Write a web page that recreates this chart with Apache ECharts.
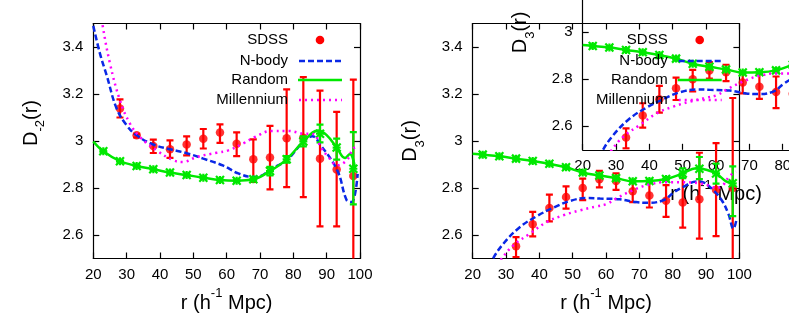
<!DOCTYPE html>
<html>
<head>
<meta charset="utf-8">
<script src="https://cdn.jsdelivr.net/npm/echarts@6/dist/echarts.min.js"></script>
<style>
  html, body { margin: 0; padding: 0; background: #fff; }
  #chart { width: 789px; height: 331px; }
</style>
</head>
<body>
<div id="chart"></div>
<script>
// ---- values ----
// left panel, D_-2(r)
var rSdssL = [28, 33, 38, 43, 48, 53, 58, 63, 68, 73, 78, 83, 88, 93, 98]
var sdssL = [3.138, 3.024, 2.979, 2.965, 2.985, 3.010, 3.036, 2.988, 2.922, 2.930, 3.012, 3.014, 2.925, 2.879, 2.851]
var sdssLoL = [3.100, 3.015, 2.949, 2.928, 2.939, 2.968, 2.992, 2.936, 2.826, 2.794, 2.804, 2.761, 2.637, 2.637, 2.45]
var sdssHiL = [3.177, 3.030, 3.006, 3.003, 3.020, 3.051, 3.071, 3.037, 3.007, 3.064, 3.220, 3.272, 3.214, 3.124, 3.261]

var rRand = [23, 28, 33, 38, 43, 48, 53, 58, 63, 68, 73, 78, 83, 88, 93, 98]
var randL = [2.956, 2.914, 2.894, 2.880, 2.866, 2.855, 2.844, 2.834, 2.831, 2.837, 2.872, 2.922, 2.998, 3.031, 2.972, 2.882]
var randLoL = [2.951, 2.909, 2.889, 2.875, 2.861, 2.850, 2.839, 2.829, 2.826, 2.831, 2.854, 2.908, 2.977, 2.994, 2.921, 2.730]
var randHiL = [2.961, 2.919, 2.899, 2.885, 2.871, 2.860, 2.849, 2.839, 2.836, 2.843, 2.890, 2.936, 3.020, 3.070, 3.010, 3.038]

var randCurveL = [[20, 2.998], [23, 2.956], [28, 2.914], [33, 2.894], [38, 2.880], [43, 2.866], [48, 2.855], [53, 2.844], [58, 2.834], [63, 2.831], [68, 2.837], [73, 2.872], [78, 2.922], [83, 2.998], [87.5, 3.045], [90, 3.025], [93, 2.972], [95.5, 2.928], [97, 2.945], [98.5, 2.885]]
var nbodyL = [[20, 3.49], [22, 3.372], [24, 3.28], [27, 3.138], [30, 3.067], [33, 3.024], [38, 2.985], [43, 2.965], [48, 2.948], [53, 2.925], [59, 2.895], [63.5, 2.862], [68, 2.847], [70.5, 2.853], [73.2, 2.880], [78, 2.918], [83.2, 3.000], [85.7, 3.020], [88.2, 2.982], [93.2, 2.875], [96, 2.748], [97.5, 2.740], [99.3, 2.860]]
var millL = [[21.5, 3.62], [22.7, 3.50], [25, 3.33], [28, 3.173], [31, 3.074], [34, 3.017], [39, 2.960], [44, 2.918], [47, 2.911], [51, 2.932], [57, 2.950], [60.5, 2.960], [65, 2.990], [68.5, 3.017], [73.5, 3.043], [78.5, 3.043], [83.2, 3.031], [86, 3.030], [88.2, 2.975], [90.5, 2.932], [93.2, 2.897], [96, 2.918], [98, 2.968], [99.5, 2.975]]

// right panel, D_3(r) (the shifted copy above it uses the same values)
var rSdssR = [33, 38, 43, 48, 53, 58, 63, 68, 73, 78, 83, 88, 93, 98]
var sdssR = [2.552, 2.646, 2.715, 2.762, 2.800, 2.837, 2.830, 2.786, 2.768, 2.746, 2.738, 2.752, 2.792, 2.800]
var sdssLoR = [2.506, 2.594, 2.658, 2.712, 2.748, 2.803, 2.792, 2.740, 2.717, 2.677, 2.631, 2.585, 2.595, 2.45]
var sdssHiR = [2.591, 2.698, 2.772, 2.807, 2.840, 2.873, 2.862, 2.830, 2.823, 2.812, 2.844, 2.950, 2.991, 3.183]

var randR = [2.942, 2.935, 2.925, 2.915, 2.903, 2.888, 2.866, 2.853, 2.842, 2.829, 2.830, 2.838, 2.862, 2.882, 2.862, 2.820]
var randLoR = [2.936, 2.929, 2.919, 2.909, 2.897, 2.882, 2.860, 2.847, 2.836, 2.823, 2.824, 2.830, 2.842, 2.838, 2.819, 2.680]
var randHiR = [2.948, 2.941, 2.931, 2.921, 2.909, 2.894, 2.872, 2.859, 2.848, 2.835, 2.836, 2.846, 2.884, 2.932, 2.904, 2.892]

var randCurveR = [[20, 2.946], [23, 2.942], [28, 2.935], [33, 2.925], [38, 2.915], [43, 2.903], [48, 2.888], [53, 2.866], [58, 2.853], [63, 2.842], [68, 2.829], [73, 2.830], [78, 2.838], [83, 2.862], [87, 2.884], [90, 2.878], [93, 2.862], [96, 2.828], [98, 2.820]]
var nbodyR = [[24, 2.43], [25.7, 2.49], [29.2, 2.563], [34.2, 2.634], [39.2, 2.680], [44.2, 2.716], [49.2, 2.745], [54.2, 2.757], [58.2, 2.755], [64, 2.752], [69, 2.740], [73, 2.737], [77.5, 2.750], [80.2, 2.780], [83.2, 2.805], [87.2, 2.828], [89.2, 2.824], [92.2, 2.790], [94.7, 2.748], [96.7, 2.690], [98.2, 2.627], [99.2, 2.670]]
var millR = [[26.5, 2.45], [28.2, 2.49], [32.2, 2.556], [37.2, 2.606], [42.2, 2.655], [47.2, 2.684], [52.2, 2.705], [57.2, 2.722], [60.2, 2.732], [63, 2.755], [68, 2.790], [73, 2.815], [78, 2.825], [83, 2.825], [88, 2.820], [91, 2.810], [93, 2.800], [95, 2.812], [97, 2.850], [99, 2.870]]

var yTicks = [2.6, 2.8, 3.0, 3.2, 3.4]
var keyNames = ['SDSS', 'N-body', 'Random', 'Millennium']

var FONT = 'Liberation Sans, Arial, sans-serif'
var RED = '#ff0000', GREEN = '#00e800', BLUE = '#0a28e6', MAGENTA = '#ff00ff'

// ---- helpers ----
function zip3(r, v, lo, hi) {
  return r.map(function (x, i) { return [x, v[i], lo[i], hi[i]] })
}

// vertical error bar with caps, optional gnuplot-like star point
function errBars(color, star) {
  return function (params, api) {
    var r = api.value(0)
    var mid = api.coord([r, api.value(1)])
    var lo = api.coord([r, api.value(2)])
    var hi = api.coord([r, api.value(3)])
    var st = { stroke: color, lineWidth: 2.2 }
    var x = mid[0]
    var kids = [
      { type: 'line', shape: { x1: x, y1: lo[1], x2: x, y2: hi[1] }, style: st },
      { type: 'line', shape: { x1: x - 3.5, y1: lo[1], x2: x + 3.5, y2: lo[1] }, style: st },
      { type: 'line', shape: { x1: x - 3.5, y1: hi[1], x2: x + 3.5, y2: hi[1] }, style: st }
    ]
    if (star) {
      var s = 4, y = mid[1]
      var ss = { stroke: color, lineWidth: 2.2 }
      kids.push({ type: 'line', shape: { x1: x - s, y1: y, x2: x + s, y2: y }, style: ss })
      kids.push({ type: 'line', shape: { x1: x, y1: y - s, x2: x, y2: y + s }, style: ss })
      kids.push({ type: 'line', shape: { x1: x - s, y1: y - s, x2: x + s, y2: y + s }, style: ss })
      kids.push({ type: 'line', shape: { x1: x - s, y1: y + s, x2: x + s, y2: y - s }, style: ss })
    }
    return { type: 'group', children: kids }
  }
}

function panelSeries(ai, d) {
  return [
    { type: 'custom', xAxisIndex: ai, yAxisIndex: ai, clip: true, renderItem: errBars(RED, false),
      encode: { x: 0, y: [1, 2, 3] }, data: zip3(d.rs, d.sdss, d.sdssLo, d.sdssHi), z: 2 },
    { type: 'scatter', xAxisIndex: ai, yAxisIndex: ai, symbolSize: 8.5, itemStyle: { color: RED },
      data: d.rs.map(function (x, i) { return [x, d.sdss[i]] }), z: 3 },
    { type: 'line', xAxisIndex: ai, yAxisIndex: ai, data: d.nbody, smooth: 0.4, showSymbol: false, symbol: 'none',
      lineStyle: { color: BLUE, width: 2.5, type: [6, 3] }, z: 4 },
    { type: 'custom', xAxisIndex: ai, yAxisIndex: ai, clip: true, renderItem: errBars(GREEN, true),
      encode: { x: 0, y: [1, 2, 3] }, data: zip3(rRand, d.rand, d.randLo, d.randHi), z: 5 },
    { type: 'line', xAxisIndex: ai, yAxisIndex: ai, data: d.randCurve, smooth: 0.4, showSymbol: false, symbol: 'none',
      lineStyle: { color: GREEN, width: 2.5 }, z: 5 },
    { type: 'line', xAxisIndex: ai, yAxisIndex: ai, data: d.mill, smooth: 0.4, showSymbol: false, symbol: 'none',
      lineStyle: { color: MAGENTA, width: 2.5, type: [2, 4] }, z: 6 }
  ]
}

var xTitle = '{a|r (h}{s|-1}{a| Mpc)}'
var titleRich = {
  a: { fontSize: 20, fontFamily: FONT, color: '#000', verticalAlign: 'bottom', lineHeight: 26 },
  s: { fontSize: 13, fontFamily: FONT, color: '#000', verticalAlign: 'top', lineHeight: 26 },
  b: { fontSize: 13, fontFamily: FONT, color: '#000', verticalAlign: 'bottom', lineHeight: 18, padding: [0, 0, -6, 0] }
}

function xPair(gi) {
  var line = { show: true, onZero: false, lineStyle: { color: '#000', width: 1.2 } }
  var tick = { show: true, inside: true, length: 6, lineStyle: { color: '#000', width: 1.2 } }
  return [
    { type: 'value', gridIndex: gi, position: 'bottom', min: 20, max: 100, interval: 10,
      axisLine: line, axisTick: tick, splitLine: { show: false },
      axisLabel: { color: '#000', fontSize: 15, fontFamily: FONT, margin: 9 },
      name: xTitle, nameLocation: 'middle', nameGap: 26, nameTextStyle: { rich: titleRich } },
    { type: 'value', gridIndex: gi, position: 'top', min: 20, max: 100, interval: 10,
      axisLine: line, axisTick: tick, splitLine: { show: false }, axisLabel: { show: false } }
  ]
}

function yPair(gi, name, pad) {
  var line = { show: true, onZero: false, lineStyle: { color: '#000', width: 1.2 } }
  var tick = { show: true, inside: true, length: 6, customValues: yTicks, lineStyle: { color: '#000', width: 1.2 } }
  return [
    { type: 'value', gridIndex: gi, position: 'left', min: 2.5, max: 3.5,
      axisLine: line, axisTick: tick, splitLine: { show: false },
      axisLabel: { color: '#000', fontSize: 15, fontFamily: FONT, margin: 10, customValues: yTicks },
      name: name, nameLocation: 'middle', nameGap: 52, nameTextStyle: { rich: titleRich, padding: pad } },
    { type: 'value', gridIndex: gi, position: 'right', min: 2.5, max: 3.5,
      axisLine: line, axisTick: tick, splitLine: { show: false }, axisLabel: { show: false } }
  ]
}

// key drawn as plain graphics: text right-aligned, sample to the right
function keyGraphics(xr) {
  var ys = [40, 61, 80, 100]
  var g = []
  keyNames.forEach(function (n, i) {
    g.push({ type: 'text', x: xr, y: ys[i], style: { text: n, fill: '#000', font: '15px ' + FONT, textAlign: 'right', textVerticalAlign: 'middle' }, z: 10 })
  })
  g.push({ type: 'circle', shape: { cx: xr + 32, cy: ys[0], r: 4.3 }, style: { fill: RED }, z: 10 })
  g.push({ type: 'line', shape: { x1: xr + 11, y1: ys[1], x2: xr + 54, y2: ys[1] }, style: { stroke: BLUE, lineWidth: 2.5, lineDash: [6, 3] }, z: 10 })
  g.push({ type: 'line', shape: { x1: xr + 10, y1: ys[2], x2: xr + 54, y2: ys[2] }, style: { stroke: GREEN, lineWidth: 2.5 }, z: 10 })
  g.push({ type: 'line', shape: { x1: xr + 11, y1: ys[3], x2: xr + 54, y2: ys[3] }, style: { stroke: MAGENTA, lineWidth: 2.5, lineDash: [2, 4] }, z: 10 })
  return g
}

var leftData = { rs: rSdssL, sdss: sdssL, sdssLo: sdssLoL, sdssHi: sdssHiL, rand: randL, randLo: randLoL, randHi: randHiL, randCurve: randCurveL, nbody: nbodyL, mill: millL }
var rightData = { rs: rSdssR, sdss: sdssR, sdssLo: sdssLoR, sdssHi: sdssHiR, rand: randR, randLo: randLoR, randHi: randHiR, randCurve: randCurveR, nbody: nbodyR, mill: millR }

var chart = echarts.init(document.getElementById('chart'), null, { renderer: 'canvas' })
chart.setOption({
  animation: false,
  backgroundColor: '#fff',
  grid: [
    { left: 93.3, top: 23.5, width: 266.7, height: 235, outerBoundsMode: 'none', containLabel: false },
    { left: 472.7, top: 23.5, width: 266.7, height: 235, outerBoundsMode: 'none', containLabel: false },
    // shifted copy of the right panel, partly outside the canvas
    { left: 582.7, top: -85.2, width: 266.7, height: 235, outerBoundsMode: 'none', containLabel: false }
  ],
  xAxis: xPair(0).concat(xPair(1), xPair(2)),
  yAxis: yPair(0, '{a|D}{b|-2}{a|(r)}', [0, 0, 0, 36]).concat(
    yPair(1, '{a|D}{b|3}{a|(r)}', 0), yPair(2, '{a|D}{b|3}{a|(r)}', 0)),
  graphic: keyGraphics(288).concat(keyGraphics(667.7)),
  series: panelSeries(0, leftData).concat(panelSeries(2, rightData), panelSeries(4, rightData))
})
</script>
</body>
</html>
